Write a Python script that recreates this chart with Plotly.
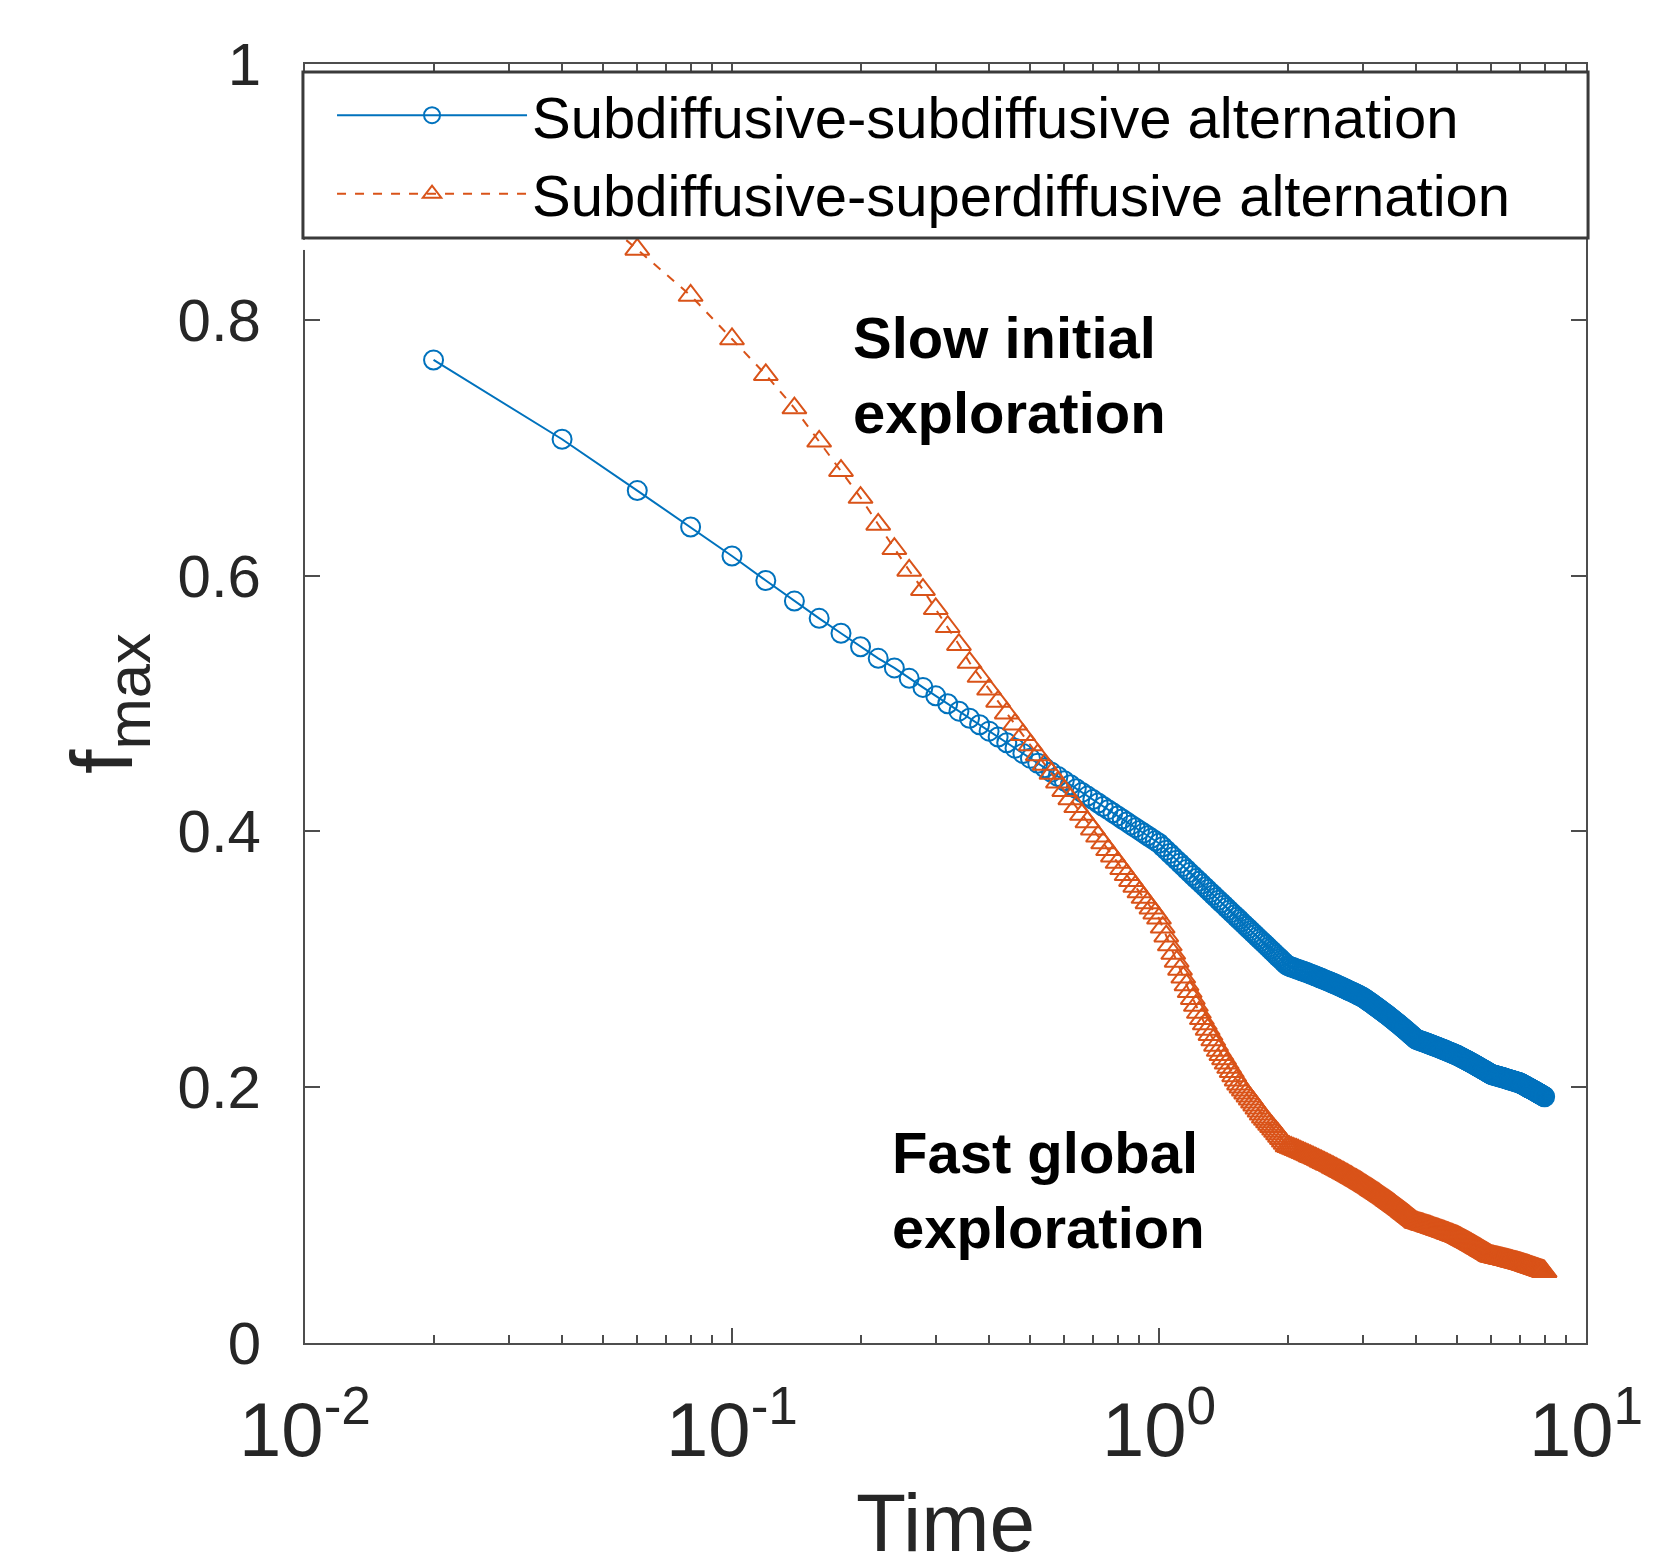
import plotly.graph_objects as go

# ---------------- data ----------------
TIME = [
    0.02, 0.04, 0.06, 0.08, 0.10, 0.12, 0.14, 0.16, 0.18, 0.20,
    0.22, 0.24, 0.26, 0.28, 0.30, 0.32, 0.34, 0.36, 0.38, 0.40,
    0.42, 0.44, 0.46, 0.48, 0.50, 0.52, 0.54, 0.56, 0.58, 0.60,
    0.62, 0.64, 0.66, 0.68, 0.70, 0.72, 0.74, 0.76, 0.78, 0.80,
    0.82, 0.84, 0.86, 0.88, 0.90, 0.92, 0.94, 0.96, 0.98, 1.00,
    1.02, 1.04, 1.06, 1.08, 1.10, 1.12, 1.14, 1.16, 1.18, 1.20,
    1.22, 1.24, 1.26, 1.28, 1.30, 1.32, 1.34, 1.36, 1.38, 1.40,
    1.42, 1.44, 1.46, 1.48, 1.50, 1.52, 1.54, 1.56, 1.58, 1.60,
    1.62, 1.64, 1.66, 1.68, 1.70, 1.72, 1.74, 1.76, 1.78, 1.80,
    1.82, 1.84, 1.86, 1.88, 1.90, 1.92, 1.94, 1.96, 1.98, 2.00,
    2.02, 2.04, 2.06, 2.08, 2.10, 2.12, 2.14, 2.16, 2.18, 2.20,
    2.22, 2.24, 2.26, 2.28, 2.30, 2.32, 2.34, 2.36, 2.38, 2.40,
    2.42, 2.44, 2.46, 2.48, 2.50, 2.52, 2.54, 2.56, 2.58, 2.60,
    2.62, 2.64, 2.66, 2.68, 2.70, 2.72, 2.74, 2.76, 2.78, 2.80,
    2.82, 2.84, 2.86, 2.88, 2.90, 2.92, 2.94, 2.96, 2.98, 3.00,
    3.02, 3.04, 3.06, 3.08, 3.10, 3.12, 3.14, 3.16, 3.18, 3.20,
    3.22, 3.24, 3.26, 3.28, 3.30, 3.32, 3.34, 3.36, 3.38, 3.40,
    3.42, 3.44, 3.46, 3.48, 3.50, 3.52, 3.54, 3.56, 3.58, 3.60,
    3.62, 3.64, 3.66, 3.68, 3.70, 3.72, 3.74, 3.76, 3.78, 3.80,
    3.82, 3.84, 3.86, 3.88, 3.90, 3.92, 3.94, 3.96, 3.98, 4.00,
    4.02, 4.04, 4.06, 4.08, 4.10, 4.12, 4.14, 4.16, 4.18, 4.20,
    4.22, 4.24, 4.26, 4.28, 4.30, 4.32, 4.34, 4.36, 4.38, 4.40,
    4.42, 4.44, 4.46, 4.48, 4.50, 4.52, 4.54, 4.56, 4.58, 4.60,
    4.62, 4.64, 4.66, 4.68, 4.70, 4.72, 4.74, 4.76, 4.78, 4.80,
    4.82, 4.84, 4.86, 4.88, 4.90, 4.92, 4.94, 4.96, 4.98, 5.00,
    5.02, 5.04, 5.06, 5.08, 5.10, 5.12, 5.14, 5.16, 5.18, 5.20,
    5.22, 5.24, 5.26, 5.28, 5.30, 5.32, 5.34, 5.36, 5.38, 5.40,
    5.42, 5.44, 5.46, 5.48, 5.50, 5.52, 5.54, 5.56, 5.58, 5.60,
    5.62, 5.64, 5.66, 5.68, 5.70, 5.72, 5.74, 5.76, 5.78, 5.80,
    5.82, 5.84, 5.86, 5.88, 5.90, 5.92, 5.94, 5.96, 5.98, 6.00,
    6.02, 6.04, 6.06, 6.08, 6.10, 6.12, 6.14, 6.16, 6.18, 6.20,
    6.22, 6.24, 6.26, 6.28, 6.30, 6.32, 6.34, 6.36, 6.38, 6.40,
    6.42, 6.44, 6.46, 6.48, 6.50, 6.52, 6.54, 6.56, 6.58, 6.60,
    6.62, 6.64, 6.66, 6.68, 6.70, 6.72, 6.74, 6.76, 6.78, 6.80,
    6.82, 6.84, 6.86, 6.88, 6.90, 6.92, 6.94, 6.96, 6.98, 7.00,
    7.02, 7.04, 7.06, 7.08, 7.10, 7.12, 7.14, 7.16, 7.18, 7.20,
    7.22, 7.24, 7.26, 7.28, 7.30, 7.32, 7.34, 7.36, 7.38, 7.40,
    7.42, 7.44, 7.46, 7.48, 7.50, 7.52, 7.54, 7.56, 7.58, 7.60,
    7.62, 7.64, 7.66, 7.68, 7.70, 7.72, 7.74, 7.76, 7.78, 7.80,
    7.82, 7.84, 7.86, 7.88, 7.90, 7.92, 7.94, 7.96, 7.98, 8.00,
]

F_SUB_SUB = [
    # 0.02 - 1.00
    0.7686, 0.7066, 0.6665, 0.6380, 0.6153, 0.5962, 0.5801, 0.5666, 0.5549, 0.5444,
    0.5353, 0.5278, 0.5197, 0.5126, 0.5060, 0.4998, 0.4940, 0.4885, 0.4834, 0.4784,
    0.4738, 0.4693, 0.4651, 0.4610, 0.4571, 0.4533, 0.4497, 0.4462, 0.4429, 0.4396,
    0.4365, 0.4334, 0.4305, 0.4276, 0.4249, 0.4222, 0.4195, 0.4170, 0.4145, 0.4121,
    0.4097, 0.4074, 0.4051, 0.4029, 0.4008, 0.3987, 0.3966, 0.3946, 0.3926, 0.3907,
    # 1.02 - 2.00
    0.3880, 0.3853, 0.3827, 0.3801, 0.3775, 0.3751, 0.3726, 0.3702, 0.3678, 0.3655,
    0.3632, 0.3610, 0.3588, 0.3566, 0.3545, 0.3523, 0.3503, 0.3482, 0.3462, 0.3442,
    0.3423, 0.3403, 0.3384, 0.3365, 0.3347, 0.3329, 0.3311, 0.3293, 0.3275, 0.3258,
    0.3241, 0.3224, 0.3207, 0.3191, 0.3174, 0.3158, 0.3142, 0.3126, 0.3111, 0.3095,
    0.3080, 0.3065, 0.3050, 0.3035, 0.3020, 0.3006, 0.2992, 0.2977, 0.2963, 0.2950,
    # 2.02 - 3.00
    0.2945, 0.2940, 0.2935, 0.2930, 0.2925, 0.2920, 0.2915, 0.2910, 0.2906, 0.2901,
    0.2896, 0.2891, 0.2886, 0.2881, 0.2876, 0.2871, 0.2866, 0.2861, 0.2856, 0.2851,
    0.2846, 0.2841, 0.2836, 0.2831, 0.2827, 0.2822, 0.2817, 0.2812, 0.2807, 0.2802,
    0.2797, 0.2792, 0.2787, 0.2782, 0.2777, 0.2772, 0.2767, 0.2762, 0.2757, 0.2752,
    0.2747, 0.2743, 0.2738, 0.2733, 0.2728, 0.2723, 0.2718, 0.2713, 0.2708, 0.2703,
    # 3.02 - 4.00
    0.2696, 0.2690, 0.2683, 0.2677, 0.2670, 0.2664, 0.2657, 0.2651, 0.2644, 0.2637,
    0.2631, 0.2624, 0.2618, 0.2611, 0.2605, 0.2598, 0.2591, 0.2585, 0.2578, 0.2572,
    0.2565, 0.2559, 0.2552, 0.2546, 0.2539, 0.2532, 0.2526, 0.2519, 0.2513, 0.2506,
    0.2500, 0.2493, 0.2487, 0.2480, 0.2473, 0.2467, 0.2460, 0.2454, 0.2447, 0.2441,
    0.2434, 0.2428, 0.2421, 0.2414, 0.2408, 0.2401, 0.2395, 0.2388, 0.2382, 0.2375,
    # 4.02 - 5.00
    0.2372, 0.2370, 0.2367, 0.2365, 0.2362, 0.2360, 0.2357, 0.2355, 0.2352, 0.2350,
    0.2347, 0.2345, 0.2342, 0.2339, 0.2337, 0.2334, 0.2332, 0.2329, 0.2327, 0.2324,
    0.2322, 0.2319, 0.2317, 0.2314, 0.2312, 0.2309, 0.2306, 0.2304, 0.2301, 0.2299,
    0.2296, 0.2294, 0.2291, 0.2289, 0.2286, 0.2284, 0.2281, 0.2278, 0.2276, 0.2273,
    0.2271, 0.2268, 0.2266, 0.2263, 0.2261, 0.2258, 0.2256, 0.2253, 0.2251, 0.2248,
    # 5.02 - 6.00
    0.2245, 0.2242, 0.2239, 0.2236, 0.2233, 0.2230, 0.2227, 0.2224, 0.2221, 0.2218,
    0.2215, 0.2212, 0.2210, 0.2207, 0.2204, 0.2201, 0.2198, 0.2195, 0.2192, 0.2189,
    0.2186, 0.2183, 0.2180, 0.2177, 0.2174, 0.2171, 0.2168, 0.2165, 0.2162, 0.2159,
    0.2156, 0.2153, 0.2150, 0.2147, 0.2144, 0.2141, 0.2138, 0.2135, 0.2133, 0.2130,
    0.2127, 0.2124, 0.2121, 0.2118, 0.2115, 0.2112, 0.2109, 0.2106, 0.2103, 0.2100,
    # 6.02 - 7.00
    0.2099, 0.2097, 0.2096, 0.2095, 0.2093, 0.2092, 0.2091, 0.2089, 0.2088, 0.2087,
    0.2085, 0.2084, 0.2083, 0.2081, 0.2080, 0.2079, 0.2077, 0.2076, 0.2075, 0.2073,
    0.2072, 0.2071, 0.2069, 0.2068, 0.2067, 0.2065, 0.2064, 0.2062, 0.2061, 0.2060,
    0.2058, 0.2057, 0.2056, 0.2054, 0.2053, 0.2052, 0.2050, 0.2049, 0.2048, 0.2046,
    0.2045, 0.2044, 0.2042, 0.2041, 0.2040, 0.2038, 0.2037, 0.2036, 0.2034, 0.2033,
    # 7.02 - 8.00
    0.2031, 0.2029, 0.2027, 0.2024, 0.2022, 0.2020, 0.2018, 0.2016, 0.2014, 0.2011,
    0.2009, 0.2007, 0.2005, 0.2003, 0.2001, 0.1998, 0.1996, 0.1994, 0.1992, 0.1990,
    0.1988, 0.1985, 0.1983, 0.1981, 0.1979, 0.1977, 0.1975, 0.1973, 0.1970, 0.1968,
    0.1966, 0.1964, 0.1962, 0.1960, 0.1957, 0.1955, 0.1953, 0.1951, 0.1949, 0.1947,
    0.1944, 0.1942, 0.1940, 0.1938, 0.1936, 0.1934, 0.1931, 0.1929, 0.1927, 0.1925,
]

F_SUB_SUPER = [
    # 0.02 - 1.00
    0.965, 0.905, 0.855, 0.819, 0.785, 0.757, 0.731, 0.705, 0.682, 0.661,
    0.640, 0.621, 0.604, 0.589, 0.574, 0.560, 0.546, 0.532, 0.5211, 0.5111,
    0.5016, 0.4924, 0.4837, 0.4755, 0.4675, 0.4598, 0.4524, 0.4453, 0.4385, 0.4318,
    0.4254, 0.4192, 0.4132, 0.4074, 0.4017, 0.3962, 0.3909, 0.3856, 0.3806, 0.3756,
    0.3708, 0.3661, 0.3615, 0.3570, 0.3526, 0.3483, 0.3441, 0.3400, 0.3360, 0.3320,
    # 1.02 - 2.00
    0.3250, 0.3181, 0.3111, 0.3045, 0.2983, 0.2921, 0.2859, 0.2800, 0.2746, 0.2692,
    0.2638, 0.2584, 0.2535, 0.2494, 0.2452, 0.2411, 0.2369, 0.2327, 0.2287, 0.2254,
    0.2221, 0.2187, 0.2154, 0.2121, 0.2088, 0.2055, 0.2024, 0.2000, 0.1977, 0.1953,
    0.1930, 0.1906, 0.1882, 0.1859, 0.1835, 0.1812, 0.1788, 0.1765, 0.1747, 0.1728,
    0.1709, 0.1690, 0.1671, 0.1653, 0.1634, 0.1615, 0.1596, 0.1577, 0.1559, 0.1540,
    # 2.02 - 3.00
    0.1534, 0.1528, 0.1522, 0.1516, 0.1511, 0.1505, 0.1499, 0.1493, 0.1487, 0.1481,
    0.1475, 0.1469, 0.1463, 0.1457, 0.1452, 0.1446, 0.1440, 0.1434, 0.1428, 0.1422,
    0.1416, 0.1410, 0.1404, 0.1398, 0.1393, 0.1387, 0.1381, 0.1375, 0.1369, 0.1363,
    0.1357, 0.1351, 0.1345, 0.1339, 0.1334, 0.1328, 0.1322, 0.1316, 0.1310, 0.1304,
    0.1298, 0.1292, 0.1286, 0.1280, 0.1275, 0.1269, 0.1263, 0.1257, 0.1251, 0.1245,
    # 3.02 - 4.00
    0.1239, 0.1233, 0.1227, 0.1221, 0.1215, 0.1209, 0.1203, 0.1197, 0.1191, 0.1185,
    0.1179, 0.1173, 0.1167, 0.1161, 0.1155, 0.1149, 0.1143, 0.1137, 0.1131, 0.1125,
    0.1119, 0.1113, 0.1107, 0.1101, 0.1095, 0.1089, 0.1083, 0.1077, 0.1071, 0.1065,
    0.1059, 0.1053, 0.1047, 0.1041, 0.1035, 0.1029, 0.1023, 0.1017, 0.1011, 0.1005,
    0.0999, 0.0993, 0.0987, 0.0981, 0.0975, 0.0969, 0.0963, 0.0957, 0.0951, 0.0945,
    # 4.02 - 5.00
    0.0943, 0.0940, 0.0938, 0.0936, 0.0934, 0.0931, 0.0929, 0.0927, 0.0924, 0.0922,
    0.0920, 0.0918, 0.0915, 0.0913, 0.0911, 0.0909, 0.0906, 0.0904, 0.0902, 0.0899,
    0.0897, 0.0895, 0.0893, 0.0890, 0.0888, 0.0886, 0.0883, 0.0881, 0.0879, 0.0877,
    0.0874, 0.0872, 0.0870, 0.0867, 0.0865, 0.0863, 0.0861, 0.0858, 0.0856, 0.0854,
    0.0852, 0.0849, 0.0847, 0.0845, 0.0842, 0.0840, 0.0838, 0.0836, 0.0833, 0.0831,
    # 5.02 - 6.00
    0.0828, 0.0825, 0.0822, 0.0819, 0.0816, 0.0813, 0.0810, 0.0807, 0.0804, 0.0801,
    0.0798, 0.0795, 0.0792, 0.0789, 0.0786, 0.0783, 0.0780, 0.0777, 0.0774, 0.0771,
    0.0768, 0.0765, 0.0762, 0.0759, 0.0756, 0.0752, 0.0749, 0.0746, 0.0743, 0.0740,
    0.0737, 0.0734, 0.0731, 0.0728, 0.0725, 0.0722, 0.0719, 0.0716, 0.0713, 0.0710,
    0.0707, 0.0704, 0.0701, 0.0698, 0.0695, 0.0692, 0.0689, 0.0686, 0.0683, 0.0680,
    # 6.02 - 7.00
    0.0679, 0.0678, 0.0677, 0.0676, 0.0674, 0.0673, 0.0672, 0.0671, 0.0670, 0.0669,
    0.0668, 0.0667, 0.0665, 0.0664, 0.0663, 0.0662, 0.0661, 0.0660, 0.0659, 0.0658,
    0.0656, 0.0655, 0.0654, 0.0653, 0.0652, 0.0651, 0.0650, 0.0649, 0.0648, 0.0646,
    0.0645, 0.0644, 0.0643, 0.0642, 0.0641, 0.0640, 0.0639, 0.0637, 0.0636, 0.0635,
    0.0634, 0.0633, 0.0632, 0.0631, 0.0630, 0.0628, 0.0627, 0.0626, 0.0625, 0.0624,
    # 7.02 - 8.00
    0.0623, 0.0621, 0.0620, 0.0619, 0.0617, 0.0616, 0.0615, 0.0613, 0.0612, 0.0611,
    0.0609, 0.0608, 0.0607, 0.0606, 0.0604, 0.0603, 0.0602, 0.0600, 0.0599, 0.0598,
    0.0596, 0.0595, 0.0594, 0.0592, 0.0591, 0.0590, 0.0588, 0.0587, 0.0586, 0.0584,
    0.0583, 0.0582, 0.0580, 0.0579, 0.0578, 0.0576, 0.0575, 0.0574, 0.0572, 0.0571,
    0.0570, 0.0568, 0.0567, 0.0566, 0.0565, 0.0563, 0.0562, 0.0561, 0.0559, 0.0558,
]

SERIES_NAMES = ["Subdiffusive-subdiffusive alternation",
                "Subdiffusive-superdiffusive alternation"]

X_TICK_VALUES = [0.01, 0.1, 1, 10]
X_TICK_LABELS = ["10<sup>-2</sup>", "10<sup>-1</sup>", "10<sup>0</sup>", "10<sup>1</sup>"]
X_MINOR_TICKS = [0.02, 0.03, 0.04, 0.05, 0.06, 0.07, 0.08, 0.09,
                 0.2, 0.3, 0.4, 0.5, 0.6, 0.7, 0.8, 0.9,
                 2, 3, 4, 5, 6, 7, 8, 9]
Y_TICK_VALUES = [0, 0.2, 0.4, 0.6, 0.8, 1]
Y_TICK_LABELS = ["0", "0.2", "0.4", "0.6", "0.8", "1"]

assert len(TIME) == len(F_SUB_SUB) == len(F_SUB_SUPER), (len(TIME), len(F_SUB_SUB), len(F_SUB_SUPER))

BLUE = "#0072BD"
ORANGE = "#D95319"
AXIS = "#4d4d4d"
TXT = "#262626"
FONT = "Liberation Sans, Arial, Helvetica, sans-serif"

fig = go.Figure()
fig.add_trace(go.Scatter(
    x=TIME, y=F_SUB_SUB, name=SERIES_NAMES[0], mode="lines+markers",
    line=dict(color=BLUE, width=2),
    marker=dict(symbol="circle-open", size=19, color=BLUE, line=dict(width=2, color=BLUE)),
))
fig.add_trace(go.Scatter(
    x=TIME, y=F_SUB_SUPER, name=SERIES_NAMES[1], mode="lines+markers",
    line=dict(color=ORANGE, width=2, dash="dash"),
    marker=dict(symbol="triangle-up-open", size=21, color=ORANGE, line=dict(width=2, color=ORANGE)),
))

# The page body has an 8 px default margin, so the figure is 8 px smaller
# than the window and the margins are reduced by 8 px on the left/top.
fig.update_layout(
    width=1670, height=1560,
    margin=dict(l=297, r=92, t=56, b=225),
    paper_bgcolor="white", plot_bgcolor="white",
    font=dict(family=FONT, color=TXT),
    showlegend=True,
    legend=dict(
        x=0.0211, y=0.9945, xanchor="left", yanchor="top",
        bgcolor="rgba(0,0,0,0)", borderwidth=0,
        font=dict(family=FONT, size=58, color="black"),
        itemwidth=190, tracegroupgap=0,
    ),
    xaxis=dict(
        type="log", range=[-2, 1], automargin=False,
        tickmode="array", tickvals=X_TICK_VALUES, ticktext=X_TICK_LABELS,
        ticks="inside", ticklen=15, tickwidth=2, tickcolor=AXIS,
        minor=dict(tickmode="array", tickvals=X_MINOR_TICKS, ticks="inside",
                   ticklen=8, tickwidth=1.5, tickcolor=AXIS, showgrid=False),
        showline=True, linecolor=AXIS, linewidth=2, mirror="ticks",
        showgrid=False, zeroline=False,
        tickfont=dict(family=FONT, size=76, color=TXT),
        ticklabelstandoff=20,
        title=dict(text="Time", font=dict(family=FONT, size=82, color=TXT), standoff=48),
    ),
    yaxis=dict(
        range=[0, 1], automargin=False,
        tickmode="array", tickvals=Y_TICK_VALUES, ticktext=Y_TICK_LABELS,
        ticks="inside", ticklen=15, tickwidth=2, tickcolor=AXIS,
        showline=True, linecolor=AXIS, linewidth=2, mirror="ticks",
        showgrid=False, zeroline=False,
        tickfont=dict(family=FONT, size=60, color=TXT),
        ticklabelstandoff=30,
        title=dict(text="f<sub>max</sub>", font=dict(family=FONT, size=88, color=TXT), standoff=16),
    ),
    shapes=[
        # legend box (opaque, covers the top of the axes like the original)
        dict(type="rect", xref="paper", yref="paper",
             x0=-0.0016, x1=1.0016, y0=0.864, y1=0.9937,
             fillcolor="white", line=dict(color="#3a3a3a", width=3), layer="above"),
        # small gap in the left axis line just below the legend box
        dict(type="rect", xref="paper", yref="paper",
             x0=-0.004, x1=0.002, y0=0.8546, y1=0.8625,
             fillcolor="white", line=dict(width=0), layer="above"),
    ],
    annotations=[
        dict(text="<b>Slow initial<br>exploration</b>", xref="paper", yref="paper",
             x=0.426, y=0.757, xanchor="left", yanchor="middle", align="left",
             showarrow=False, font=dict(family=FONT, size=58, color="black")),
        dict(text="<b>Fast global<br>exploration</b>", xref="paper", yref="paper",
             x=0.457, y=0.120, xanchor="left", yanchor="middle", align="left",
             showarrow=False, font=dict(family=FONT, size=58, color="black")),
    ],
)

fig.write_html("out.html")
